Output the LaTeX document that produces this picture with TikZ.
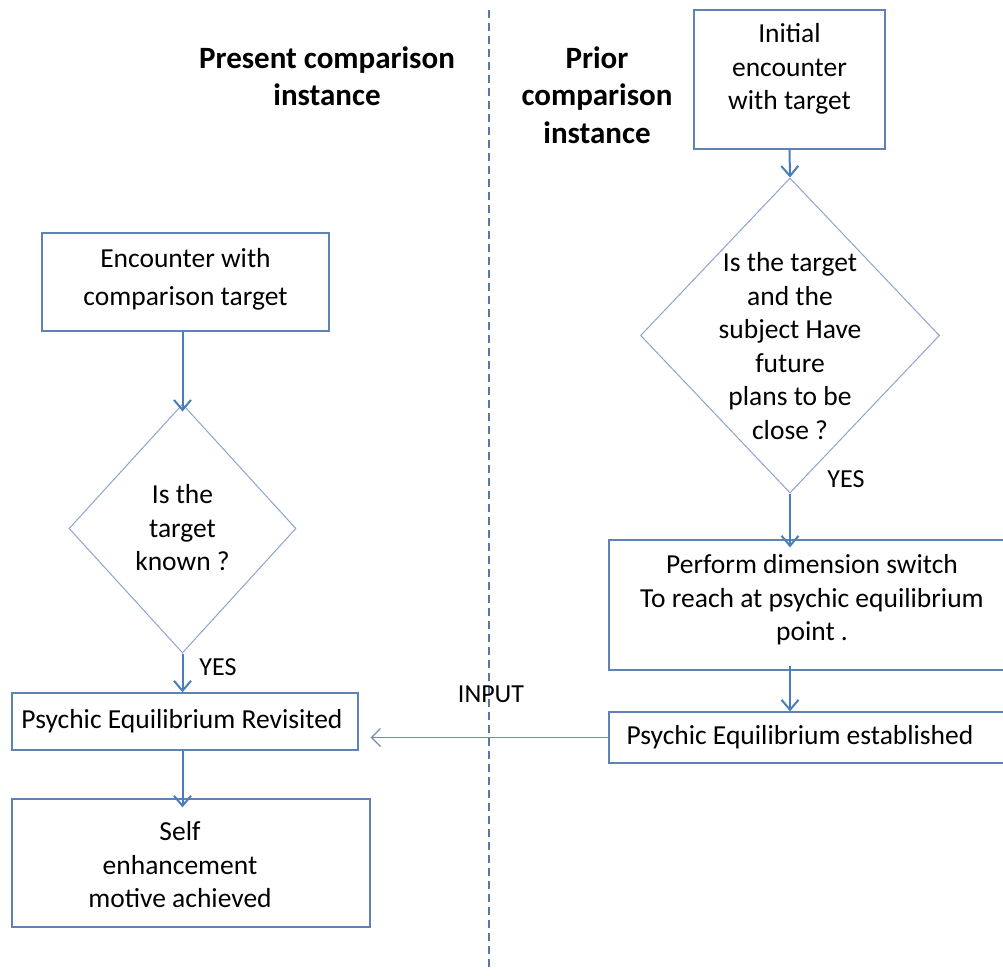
\documentclass[tikz,border=0pt]{standalone}
\usepackage{fontspec}
\setmainfont{Carlito}
\usetikzlibrary{arrows.meta,shapes.geometric}
\definecolor{boxline}{HTML}{5F83B5}
\definecolor{dialine}{HTML}{8CA5CC}
\definecolor{arrowc}{HTML}{4A7EBB}
\definecolor{divider}{HTML}{5A78A4}
\tikzset{
  every node/.style={font=\fontsize{27.5}{33.5}\selectfont, text=black},
  flowbox/.style={draw=boxline, line width=1.3pt, rectangle, inner sep=0pt, align=center},
  decision/.style={draw=dialine, line width=1pt, diamond, inner sep=0pt},
  flow/.style={draw=arrowc, line width=2pt, -{Straight Barb[length=10pt,width=17pt,line width=2pt]}},
  feed/.style={draw=dialine!85!black, line width=1.2pt, -{Straight Barb[length=9pt,width=18pt,line width=1.2pt]}},
  heading/.style={font=\bfseries\fontsize{31}{37.5}\selectfont, align=center, text=black},
  tag/.style={font=\fontsize{26}{30}\selectfont, inner sep=0pt}
}
\begin{document}
\begin{tikzpicture}[x=1pt,y=-1pt]
\useasboundingbox (0,0) rectangle (1003,975);
\fill[white] (0,0) rectangle (1003,975);

% divider between the two columns
\draw[divider, line width=1.8pt, dash pattern=on 8pt off 5pt] (489,10) -- (489,970);

% column headings
\node[heading] (hpresent) at (327,76) {Present comparison\\instance};
\node[heading] (hprior) at (597,95) {Prior\\comparison\\instance};

% right column: prior comparison instance
\node[flowbox, minimum width=191, minimum height=139] (init) at (789.5,79.5) {};
\node (inittxt) at (789.5,69) [align=center] {Initial\\encounter\\with target};

\node[decision, minimum width=299, minimum height=315] (plans) at (790,335.5) {};
\node (planstxt) at (790,346) [align=center] {Is the target\\and the\\subject Have\\future\\plans to be\\close ?};

\node[flowbox, minimum width=406, minimum height=130] (switch) at (812,605) {};
\node (switchtxt) at (812,600) [align=center] {Perform dimension switch\\To reach at psychic equilibrium\\point .};

\node[flowbox, minimum width=406, minimum height=51] (estab) at (812,737.5) {};
\node (estabtxt) at (800,737.5) {Psychic Equilibrium established};

\node[tag] (yesr) at (846,479) {YES};

% left column: present comparison instance
\node[flowbox, minimum width=287, minimum height=98] (enc) at (185.5,282) {};
\node (enctxt) at (185.5,279) [align=center, font=\fontsize{27.5}{38}\selectfont] {Encounter with\\comparison target};

\node[decision, minimum width=227, minimum height=249] (known) at (182.5,528.5) {};
\node (knowntxt) at (182.5,528) [align=center] {Is the\\target\\known ?};

\node[flowbox, minimum width=346, minimum height=57] (revis) at (185,721.5) {};
\node (revistxt) at (182,721.5) {Psychic Equilibrium Revisited};

\node[flowbox, minimum width=358, minimum height=128] (self) at (191,863) {};
\node (selftxt) at (180,865) [align=center] {Self\\enhancement\\motive achieved};

\node[tag] (yesl) at (218,667) {YES};
\node[tag] (input) at (491,694) {INPUT};

% connectors
\draw[flow] (init.south) -- (plans.north);
\draw[flow] (plans.south) -- ([yshift=-8pt]switch.north -| plans.south);
\draw[flow] ([yshift=5pt]switch.south -| plans.south) -- (estab.north -| plans.south);
\draw[flow] (enc.south -| known.north) -- ([yshift=-8pt]known.north);
\draw[flow] (known.south) -- (revis.north -| known.south);
\draw[flow] (revis.south -| known.south) -- ([yshift=-9pt]self.north -| known.south);
\draw[feed] (estab.west) -- ([xshift=12pt]revis.east |- estab.west);
\end{tikzpicture}
\end{document}
